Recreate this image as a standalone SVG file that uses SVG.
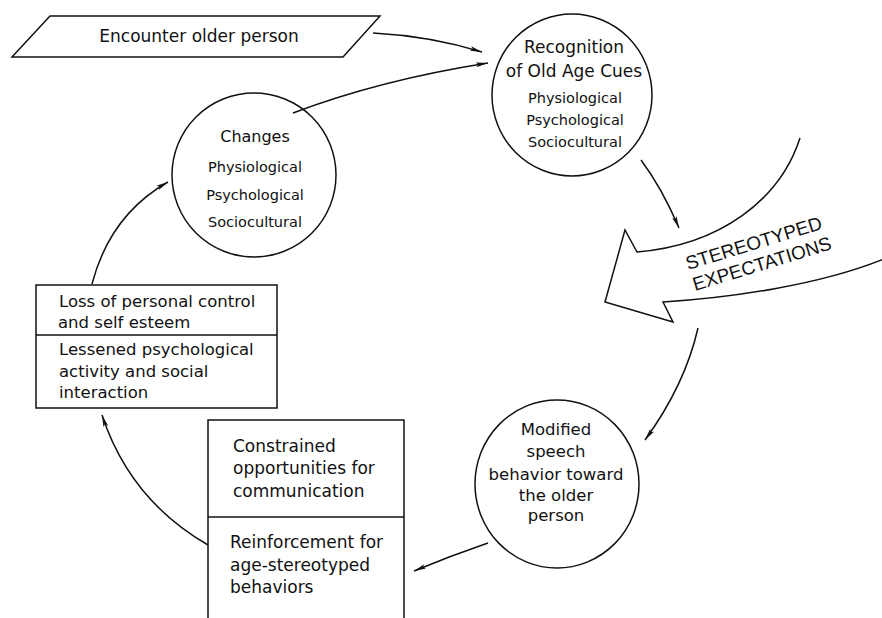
<svg xmlns="http://www.w3.org/2000/svg" width="882" height="618" viewBox="0 0 882 618">
<defs>
<style>
.shape{fill:#fff;stroke:#111;stroke-width:1.5}
.line{fill:none;stroke:#111;stroke-width:1.5}
.conn{fill:none;stroke:#111;stroke-width:1.5;marker-end:url(#ah)}
text{font-family:"DejaVu Sans","Liberation Sans",sans-serif;fill:#111}
.t17{font-size:17px}
.t165{font-size:16.5px}
.sub{font-size:14.5px}
.mid{text-anchor:middle}
.big{font-family:"Liberation Sans",Arial,sans-serif;font-size:19px}
</style>
<marker id="ah" viewBox="0 0 12 6" refX="12" refY="3" markerWidth="12" markerHeight="6" markerUnits="userSpaceOnUse" orient="auto">
<path d="M0,0.6 L12,3 L0,5.4 L2.5,3 Z" fill="#111"/>
</marker>
</defs>
<rect width="882" height="618" fill="#fff"/>

<g id="encounter">
<polygon class="shape" points="50,16 380,16 343,57 12,57"/>
<text class="t17 mid" x="199" y="42">Encounter older person</text>
</g>

<g id="recognition">
<ellipse class="shape" cx="572" cy="95" rx="80" ry="81"/>
<text class="t17 mid" x="574" y="53">Recognition</text>
<text class="t17 mid" x="574" y="77">of Old Age Cues</text>
<text class="sub mid" x="575" y="103">Physiological</text>
<text class="sub mid" x="575" y="125">Psychological</text>
<text class="sub mid" x="575" y="147">Sociocultural</text>
</g>

<g id="changes">
<ellipse class="shape" cx="254" cy="175" rx="82" ry="82"/>
<text class="mid" style="font-size:16px" x="255" y="142">Changes</text>
<text class="sub mid" x="255" y="172">Physiological</text>
<text class="sub mid" x="255" y="200">Psychological</text>
<text class="sub mid" x="255" y="227">Sociocultural</text>
</g>

<g id="stereotyped">
<path class="line" d="M800,138 C780,200 720,245 637,252 L625,230 L605,302 L673,322 L663,302 C730,298 820,285 884,259"/>
<text class="big" x="688" y="270" transform="rotate(-17 688 270)">STEREOTYPED</text>
<text class="big" x="695" y="291" transform="rotate(-17 695 291)">EXPECTATIONS</text>
</g>

<g id="modified">
<ellipse class="shape" cx="557" cy="484" rx="82" ry="84"/>
<text class="t165 mid" x="556" y="435">Modified</text>
<text class="t165 mid" x="556" y="457">speech</text>
<text class="t165 mid" x="556" y="480">behavior toward</text>
<text class="t165 mid" x="556" y="501">the older</text>
<text class="t165 mid" x="556" y="521">person</text>
</g>

<g id="bottom-box">
<rect class="shape" x="208" y="420" width="196" height="210"/>
<line class="line" x1="208" y1="517" x2="404" y2="517"/>
<text class="t17" x="233" y="452">Constrained</text>
<text class="t17" x="233" y="474">opportunities for</text>
<text class="t17" x="233" y="497">communication</text>
<text class="t17" x="230" y="548">Reinforcement for</text>
<text class="t17" x="230" y="571">age-stereotyped</text>
<text class="t17" x="230" y="593">behaviors</text>
</g>

<g id="left-box">
<rect class="shape" x="36" y="285" width="241" height="123"/>
<line class="line" x1="36" y1="335" x2="277" y2="335"/>
<text class="t165" x="59" y="307">Loss of personal control</text>
<text class="t165" x="58" y="328">and self esteem</text>
<text class="t165" x="59" y="355">Lessened psychological</text>
<text class="t165" x="59" y="377">activity and social</text>
<text class="t165" x="59" y="398">interaction</text>
</g>

<g id="connectors">
<path class="conn" d="M373,33 Q430,36 482,52"/>
<path class="conn" d="M293,113 Q380,80 488,63"/>
<path class="conn" d="M641,160 Q662,188 679,228"/>
<path class="conn" d="M698,328 Q685,385 645,440"/>
<path class="conn" d="M488,543 Q450,556 414,571"/>
<path class="conn" d="M208,545 Q130,500 102,415"/>
<path class="conn" d="M92,284 Q110,215 168,182"/>
</g>
</svg>
